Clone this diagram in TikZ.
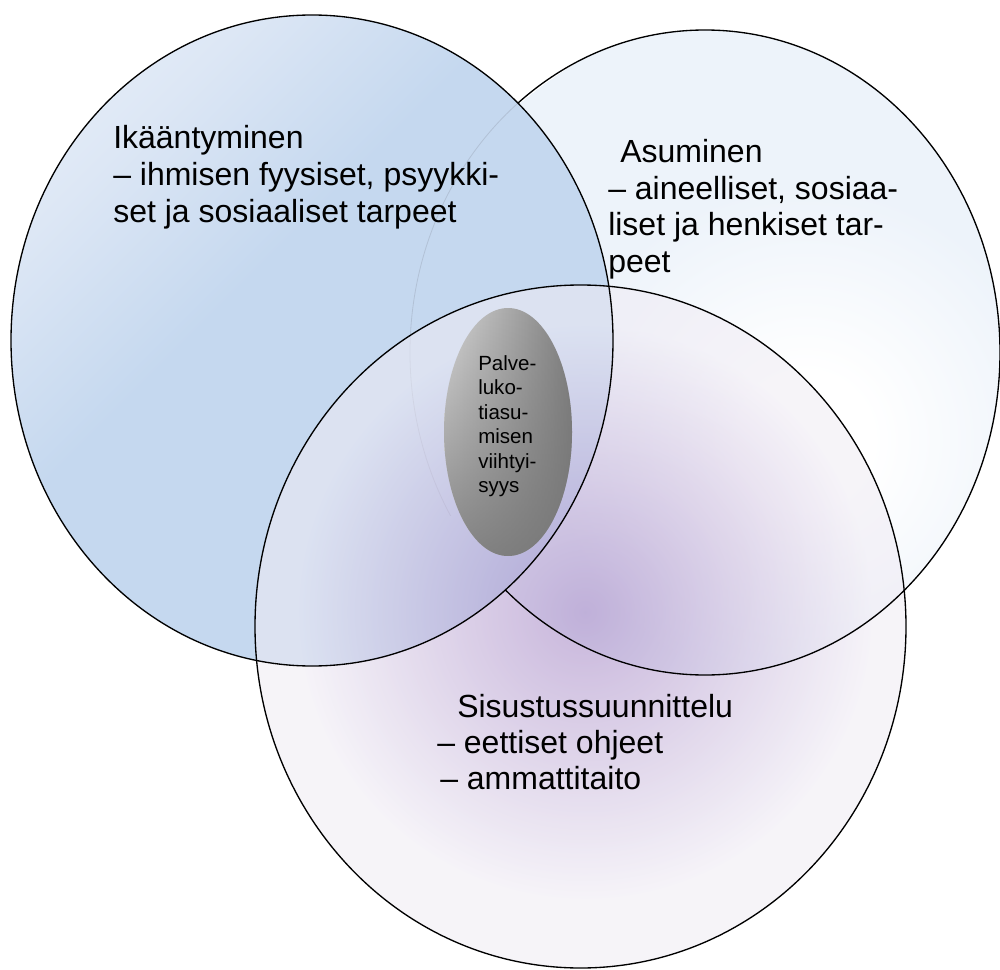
\documentclass[tikz,border=0pt]{standalone}
\usepackage{fontspec}
\setmainfont{Liberation Sans}
\usetikzlibrary{fadings}
\definecolor{bdark}{RGB}{197,216,239}
\definecolor{bmid}{RGB}{221,231,245}
\definecolor{blight}{RGB}{235,242,251}
\definecolor{rbase}{RGB}{237,243,250}
\definecolor{pcen}{RGB}{155,122,191}
\definecolor{pout}{RGB}{239,235,244}
\definecolor{glight}{RGB}{232,232,232}
\definecolor{gdark}{RGB}{108,108,108}
\definecolor{gbot}{RGB}{118,118,118}
\definecolor{faintline}{RGB}{178,193,214}
\pgfdeclareverticalshading{leftblue}{100bp}{color(0bp)=(bdark); color(57bp)=(bdark); color(72bp)=(bmid); color(85bp)=(blight); color(100bp)=(blight)}
\pgfdeclarehorizontalshading{grayband}{100bp}{color(0bp)=(glight); color(15bp)=(glight); color(85bp)=(gdark); color(100bp)=(gdark)}
% radii given in real bp (1px = 0.747bp here)
\pgfdeclareradialshading{whiteglow}{\pgfpointorigin}{color(0bp)=(white); color(50bp)=(white); color(190bp)=(rbase); color(330bp)=(rbase)}
\pgfdeclareradialshading{purpglow}{\pgfpointorigin}{color(0bp)=(pcen); color(215bp)=(pout); color(330bp)=(pout)}
\tikzfading[name=botdark, top color=transparent!100, middle color=transparent!92, bottom color=transparent!15]
\tikzset{
  outline/.style={draw=black, line width=1pt},
  glowbox/.style={inner sep=0pt, outer sep=0pt},
  biglbl/.style={anchor=base west, inner sep=0pt, font=\fontsize{24}{27.75}\selectfont},
  smalllbl/.style={anchor=base west, inner sep=0pt, font=\fontsize{15.4}{18}\selectfont}
}
\begin{document}
\begin{tikzpicture}[x=0.75pt,y=0.75pt]
\useasboundingbox (0,0) rectangle (1000,-970);
\fill[white] (0,0) rectangle (1000,-970);
% right circle (Asuminen)
\begin{scope}
  \clip (705,-352.5) ellipse [x radius=295, y radius=322.5];
  \node[glowbox] (rglow) at (805,-440) {\pgfuseshading{whiteglow}};
\end{scope}
% left circle (Ikääntyminen)
\shade[shading=leftblue, shading angle=45] (312,-340.5) ellipse [x radius=301, y radius=325.5];
% faint edge of right circle seen through left circle
\begin{scope}
  \clip (312,-340.5) ellipse [x radius=301, y radius=325.5];
  \clip (0,-95) rectangle (1000,-515);
  \draw[faintline, line width=0.6pt] (705,-352.5) ellipse [x radius=295, y radius=322.5];
\end{scope}
% bottom circle (Sisustussuunnittelu)
\begin{scope}[fill opacity=0.55]
  \clip (580.5,-626.5) ellipse [x radius=325.5, y radius=341.5];
  \node[glowbox] (pglow) at (585,-612) {\pgfuseshading{purpglow}};
\end{scope}
% outlines
\begin{scope}
  \clip (-20,20) -- (1020,20) -- (1020,-990) -- (-20,-990) -- cycle
        (312,-340.5) ellipse [x radius=301, y radius=325.5];
  \draw[outline] (705,-352.5) ellipse [x radius=295, y radius=322.5];
\end{scope}
\draw[outline] (312,-340.5) ellipse [x radius=301, y radius=325.5];
\draw[outline] (580.5,-626.5) ellipse [x radius=325.5, y radius=341.5];
% central ellipse
\shade[shading=grayband] (508,-432) ellipse [x radius=64, y radius=124];
\fill[gbot, path fading=botdark] (508,-432) ellipse [x radius=64, y radius=124];
% texts
\node[biglbl] (ik1) at (113,-149) {Ikääntyminen};
\node[biglbl] (ik2) at (113,-186) {– ihmisen fyysiset, psyykki-};
\node[biglbl] (ik3) at (113,-223) {set ja sosiaaliset tarpeet};
\node[biglbl] (as1) at (620,-163) {Asuminen};
\node[biglbl] (as2) at (608,-199.5) {– aineelliset, sosiaa-};
\node[biglbl] (as3) at (608,-236) {liset ja henkiset tar-};
\node[biglbl] (as4) at (608,-272.5) {peet};
\node[biglbl] (si1) at (457,-717) {Sisustussuunnittelu};
\node[biglbl] (si2) at (437,-753) {– eettiset ohjeet};
\node[biglbl] (si3) at (440,-789) {– ammattitaito};
\node[smalllbl] (pa1) at (478,-370) {Palve-};
\node[smalllbl] (pa2) at (478,-394.5) {luko-};
\node[smalllbl] (pa3) at (478,-419) {tiasu-};
\node[smalllbl] (pa4) at (478,-443.5) {misen};
\node[smalllbl] (pa5) at (478,-468) {viihtyi-};
\node[smalllbl] (pa6) at (478,-492.5) {syys};
\end{tikzpicture}
\end{document}
